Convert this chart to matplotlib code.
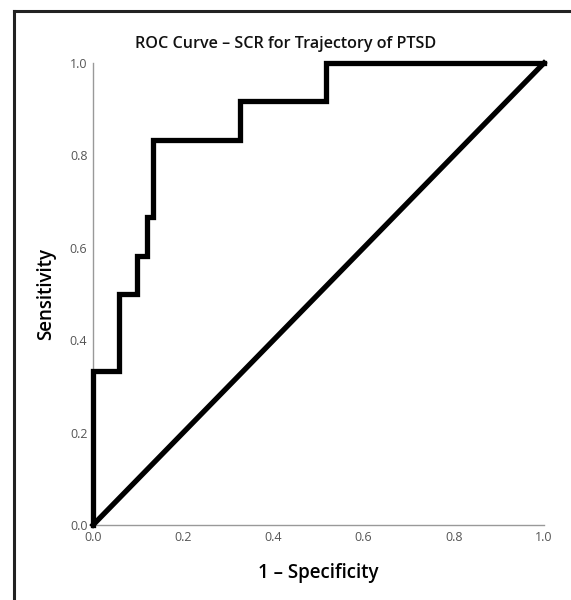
import matplotlib
matplotlib.use("Agg")
import matplotlib.pyplot as plt
from matplotlib.lines import Line2D

plt.rcParams['font.family'] = ['Open Sans', 'DejaVu Sans']

# ROC step points (1 - specificity, sensitivity)
fpr = [0.0, 0.0, 0.058, 0.097, 0.120, 0.133, 0.325, 0.516, 1.0]
tpr = [0.0, 0.333, 0.500, 0.583, 0.667, 0.833, 0.917, 1.0, 1.0]

# reference (chance) line
ref_x = [0.0, 1.0]
ref_y = [0.0, 1.0]

ticks = [0.0, 0.2, 0.4, 0.6, 0.8, 1.0]
tick_labels = ["0.0", "0.2", "0.4", "0.6", "0.8", "1.0"]

fig = plt.figure(figsize=(5.71, 6.0), dpi=100)
ax = fig.add_axes([93 / 571, 75 / 600, 451 / 571, 462 / 600])

ax.plot(fpr, tpr, drawstyle='steps-post', color='black', linewidth=3.8,
        solid_joinstyle='miter', clip_on=False, zorder=3)
ax.plot(ref_x, ref_y, color='black', linewidth=3.8, clip_on=False, zorder=3)

ax.set_xlim(0, 1)
ax.set_ylim(0, 1)
ax.set_xticks(ticks)
ax.set_xticklabels(tick_labels)
ax.set_yticks(ticks)
ax.set_yticklabels(tick_labels)
ax.tick_params(length=0, labelsize=9, labelcolor='#555555', pad=4)

for side in ['top', 'right']:
    ax.spines[side].set_visible(False)
for side in ['left', 'bottom']:
    ax.spines[side].set_color('#999999')
    ax.spines[side].set_linewidth(1.0)

ax.set_xlabel("1 – Specificity", fontsize=13.5, fontweight='semibold', labelpad=14)
ax.set_ylabel("Sensitivity", fontsize=13.5, fontweight='semibold', labelpad=10)
fig.text(0.5, 1 - 44 / 600, "ROC Curve – SCR for Trajectory of PTSD",
         ha='center', va='center', fontsize=11.6, fontweight='semibold', color='#111111')

# outer frame (left and top edges visible in the crop)
fig.add_artist(Line2D([14 / 571, 14 / 571], [0, 1 - 11 / 600], color='#222222',
                      linewidth=2.2, transform=fig.transFigure))
fig.add_artist(Line2D([14 / 571, 1], [1 - 11 / 600, 1 - 11 / 600], color='#222222',
                      linewidth=2.2, transform=fig.transFigure))

fig.savefig("out.png", dpi=100)
